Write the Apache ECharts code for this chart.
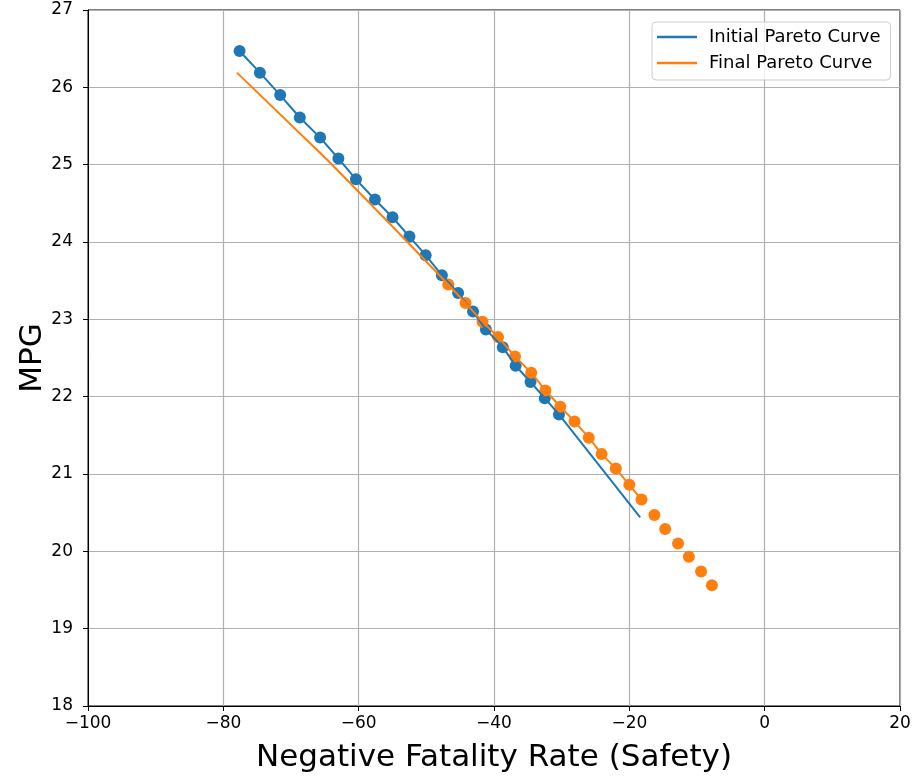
<!DOCTYPE html>
<html>
<head>
<meta charset="utf-8">
<title>Pareto Curves</title>
<script src="https://cdn.jsdelivr.net/npm/echarts@6/dist/echarts.min.js"></script>
<style>
  html, body { margin: 0; padding: 0; background: #fff; }
  #chart { width: 914px; height: 780px; }
</style>
</head>
<body>
<div id="chart"></div>
<script>
// Sampled designs on the initial front: [negative fatality rate, MPG]
const initialPoints = [
  [-77.6, 26.47], [-74.6, 26.19], [-71.6, 25.90], [-68.7, 25.61], [-65.7, 25.35],
  [-63.0, 25.08], [-60.4, 24.81], [-57.6, 24.55], [-55.0, 24.32], [-52.5, 24.07],
  [-50.1, 23.83], [-47.7, 23.57], [-45.3, 23.34], [-43.1, 23.10], [-41.2, 22.87],
  [-38.7, 22.64], [-36.8, 22.40], [-34.6, 22.19], [-32.5, 21.98], [-30.4, 21.77]
];
// Initial curve continues past the last sampled design
const initialCurveTail = [[-18.4, 20.44]];

// Sampled designs on the final front
const finalPoints = [
  [-46.75, 23.45], [-44.2, 23.21], [-41.7, 22.97], [-39.4, 22.77], [-36.9, 22.52],
  [-34.5, 22.31], [-32.4, 22.08], [-30.2, 21.87], [-28.1, 21.68], [-26.0, 21.47],
  [-24.1, 21.26], [-22.0, 21.07], [-20.0, 20.86], [-18.2, 20.67], [-16.3, 20.47],
  [-14.7, 20.29], [-12.8, 20.10], [-11.2, 19.93], [-9.4, 19.74], [-7.8, 19.56]
];
// Final curve: leading segment before the sampled designs
const finalCurveHead = [[-78.0, 26.19], [-64.5, 25.05], [-55.0, 24.20]];
// Number of final designs the curve runs through
const finalCurveCount = 14;

const xTicks = { min: -100, max: 20, interval: 20 };
const yTicks = { min: 18, max: 27, interval: 1 };

const BLUE = '#1f77b4';
const ORANGE = '#ff7f0e';
const FONT = 'DejaVu Sans';

const initialCurve = initialPoints.concat(initialCurveTail);
const finalCurve = finalCurveHead.concat(finalPoints.slice(0, finalCurveCount));

const minus = v => String(v).replace('-', '\u2212');

const chart = echarts.init(document.getElementById('chart'), null, { renderer: 'canvas' });
chart.setOption({
  animation: false,
  backgroundColor: '#ffffff',
  grid: {
    left: 88, right: 14, top: 10, bottom: 74,
    show: true, borderColor: '#000', borderWidth: 1, backgroundColor: 'transparent'
  },
  legend: {
    left: 652, top: 22,
    orient: 'vertical',
    data: [
      { name: 'Initial Pareto Curve', icon: 'rect' },
      { name: 'Final Pareto Curve', icon: 'rect' }
    ],
    itemWidth: 40, itemHeight: 2.5, itemGap: 6,
    padding: [5, 10, 7, 5],
    borderColor: '#cccccc', borderWidth: 1, borderRadius: 4,
    backgroundColor: 'rgba(255,255,255,0.8)',
    textStyle: { fontFamily: FONT, fontSize: 18, color: '#000', lineHeight: 20, padding: [0, 0, 0, 7] }
  },
  xAxis: {
    type: 'value',
    min: xTicks.min, max: xTicks.max, interval: xTicks.interval,
    name: 'Negative Fatality Rate (Safety)',
    nameLocation: 'middle', nameGap: 36, nameMoveOverlap: false,
    nameTextStyle: { fontFamily: FONT, fontSize: 31, color: '#000' },
    axisLine: { show: true, onZero: false, lineStyle: { color: '#000', width: 1 } },
    axisTick: { show: true, length: 5, lineStyle: { color: '#000' } },
    axisLabel: { fontFamily: FONT, fontSize: 17, color: '#000', margin: 9, formatter: minus },
    splitLine: { show: true, lineStyle: { color: '#b0b0b0', width: 1.2 } }
  },
  yAxis: {
    type: 'value',
    min: yTicks.min, max: yTicks.max, interval: yTicks.interval,
    name: 'MPG',
    nameLocation: 'middle', nameGap: 40, nameMoveOverlap: false,
    nameTextStyle: { fontFamily: FONT, fontSize: 31, color: '#000' },
    axisLine: { show: true, onZero: false, lineStyle: { color: '#000', width: 1 } },
    axisTick: { show: true, length: 5, lineStyle: { color: '#000' } },
    axisLabel: { fontFamily: FONT, fontSize: 17, color: '#000', margin: 15, formatter: minus },
    splitLine: { show: true, lineStyle: { color: '#b0b0b0', width: 1.2 } }
  },
  series: [
    {
      name: 'Initial Pareto Curve', type: 'line', data: initialCurve,
      showSymbol: false, symbol: 'none', color: BLUE,
      lineStyle: { color: BLUE, width: 2 }
    },
    {
      name: 'Initial designs', type: 'scatter', data: initialPoints,
      symbol: 'circle', symbolSize: 12, itemStyle: { color: BLUE, opacity: 1 }
    },
    {
      name: 'Final Pareto Curve', type: 'line', data: finalCurve,
      showSymbol: false, symbol: 'none', color: ORANGE,
      lineStyle: { color: ORANGE, width: 2 }
    },
    {
      name: 'Final designs', type: 'scatter', data: finalPoints,
      symbol: 'circle', symbolSize: 12, itemStyle: { color: ORANGE, opacity: 1 }
    }
  ]
});
</script>
</body>
</html>
